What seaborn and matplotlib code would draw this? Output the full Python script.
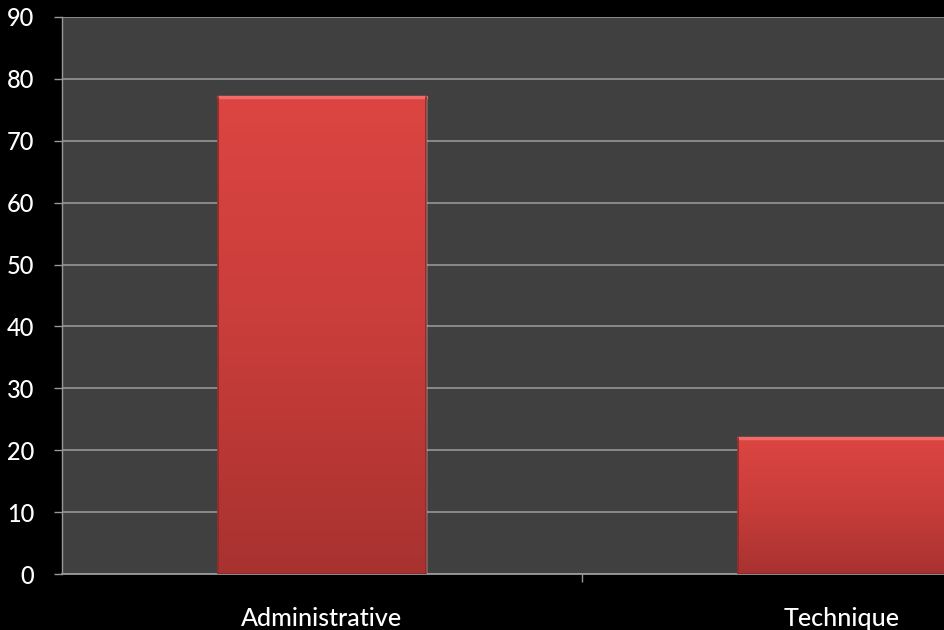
import numpy as np
import pandas as pd
import matplotlib.pyplot as plt
import seaborn as sns
from matplotlib.colors import LinearSegmentedColormap

# données
categories = ["Administrative", "Technique"]
values = [77, 22]

df = pd.DataFrame({"categorie": categories, "valeur": values})

sns.set_style("dark")
plt.rcParams['font.family'] = ['Lato', 'DejaVu Sans']

fig = plt.figure(figsize=(9.44, 6.30), dpi=100, facecolor="black")
# la zone de tracé dépasse à droite, comme dans l'original
ax = fig.add_axes([62 / 944, 56 / 630, 1040 / 944, 557 / 630])
ax.set_facecolor("#404040")

sns.barplot(data=df, x="categorie", y="valeur", color="#d84240", width=0.4,
            ax=ax, zorder=3)

# dégradé rouge pour imiter l'effet biseauté
cmap = LinearSegmentedColormap.from_list("rouge", ["#a83230", "#c83d3a", "#dc4542"])
grad = np.linspace(0, 1, 256).reshape(-1, 1)
for p in ax.patches:
    x0, y0 = p.get_x(), p.get_y()
    w, h = p.get_width(), p.get_height()
    im = ax.imshow(grad, cmap=cmap, origin="lower", aspect="auto",
                   extent=(x0, x0 + w, y0, y0 + h), zorder=4)
    im.set_clip_path(p)
    ax.plot([x0, x0 + w], [y0 + h, y0 + h], color="#f06a66", lw=2.5, zorder=5)
    ax.plot([x0, x0 + w], [y0, y0], color="#8c2a28", lw=1.5, zorder=5)
    ax.plot([x0, x0], [y0, y0 + h], color="#8c2a28", lw=1.2, zorder=5)
    ax.plot([x0 + w, x0 + w], [y0, y0 + h], color="#8c2a28", lw=1.2, zorder=5)

ax.set_xlim(-0.5, 1.5)
ax.set_ylim(0, 90)
ax.set_yticks(range(0, 91, 10))
ax.set_xticks([0.5], minor=True)
ax.grid(axis="y", color="#8f8f8f", lw=1.3, zorder=1)
ax.grid(axis="x", visible=False)

ax.set_xlabel("")
ax.set_ylabel("")
ax.tick_params(axis="y", labelcolor="white", color="#999999", labelsize=17,
               length=6, width=1, direction="out", left=True, pad=14)
ax.tick_params(axis="x", which="major", labelcolor="white", labelsize=18,
               length=0, pad=24)
ax.tick_params(axis="x", which="minor", color="#999999", length=6, width=1,
               direction="out", bottom=True)
for lbl in ax.get_xticklabels() + ax.get_yticklabels():
    lbl.set_fontweight("medium")

for s in ["top", "right"]:
    ax.spines[s].set_visible(False)
ax.spines["left"].set_color("#999999")
ax.spines["bottom"].set_color("#999999")
ax.spines["left"].set_linewidth(1)
ax.spines["bottom"].set_linewidth(1.3)

fig.savefig("out.png", dpi=100, facecolor="black")
